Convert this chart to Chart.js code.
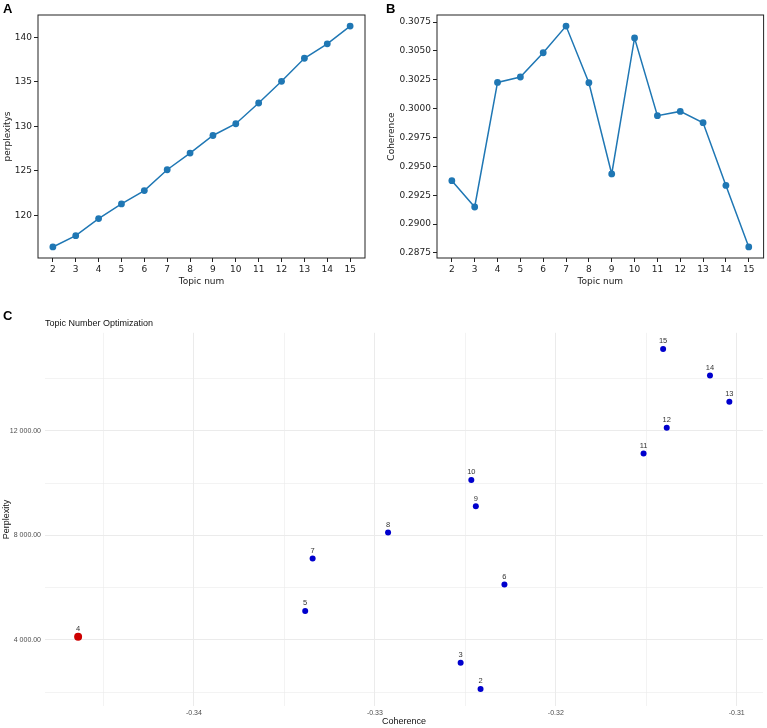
<!DOCTYPE html>
<html lang="en">
<head>
  <meta charset="UTF-8" />
  <title>Topic number selection</title>
  <script src="https://cdn.jsdelivr.net/npm/chart.js"></script>
  <style>
    body {
      margin: 0;
      background: #fff;
      font-family: "DejaVu Sans", sans-serif;
    }
    .wrap {
      position: relative;
      width: 767px;
      height: 728px;
    }
    .box {
      position: absolute;
    }
    .letter {
      position: absolute;
      font: bold 13px "Liberation Sans", Arial, sans-serif;
      color: #000;
    }
  </style>
</head>
<body>
  <div class="wrap">
    <div class="box" style="left:0;top:0;width:384px;height:300px"><canvas id="chartA"></canvas></div>
    <div class="box" style="left:384px;top:0;width:383px;height:300px"><canvas id="chartB"></canvas></div>
    <div class="box" style="left:0;top:300px;width:767px;height:428px"><canvas id="chartC"></canvas></div>
    <div class="letter" style="left:3px;top:1px">A</div>
    <div class="letter" style="left:386px;top:1px">B</div>
    <div class="letter" style="left:3px;top:308px">C</div>
  </div>

  <script>
    // số topic
    const topics = [2, 3, 4, 5, 6, 7, 8, 9, 10, 11, 12, 13, 14, 15];

    // panel A / B
    const perplexitys = [116.43, 117.70, 119.62, 121.27, 122.77, 125.11, 126.98, 128.96, 130.28, 132.61, 135.05, 137.64, 139.26, 141.26];
    const coherence = [0.29376, 0.29148, 0.30227, 0.30274, 0.30484, 0.30715, 0.30224, 0.29434, 0.30612, 0.29939, 0.29976, 0.29878, 0.29335, 0.28802];

    // panel C
    const coherenceC = [-0.32416, -0.32526, -0.34640, -0.33385, -0.32284, -0.33344, -0.32927, -0.32442, -0.32467, -0.31515, -0.31387, -0.31041, -0.31148, -0.31407];
    const perplexityC = [2123, 3131, 4126, 5111, 6118, 7114, 8115, 9111, 10118, 11131, 12115, 13111, 14118, 15129];
    const bestTopic = 4;

    // vạch lưới panel C (chỉ vạch chính có nhãn)
    const cohGrid = [-0.345, -0.34, -0.335, -0.33, -0.325, -0.32, -0.315, -0.31];
    const cohLabeled = [-0.34, -0.33, -0.32, -0.31];
    const perpGrid = [2000, 4000, 6000, 8000, 10000, 12000, 14000];
    const perpLabeled = [4000, 8000, 12000];

    const mplBlue = "#1f77b4";
    const tickFont = { family: "DejaVu Sans", size: 9 };

    // khung 4 cạnh kiểu matplotlib
    const framePlugin = {
      id: "frame",
      afterDraw(chart) {
        if (!chart.options.plugins.frame) return;
        const a = chart.chartArea;
        const ctx = chart.ctx;
        ctx.save();
        ctx.strokeStyle = "#222";
        ctx.lineWidth = 1;
        ctx.strokeRect(a.left, a.top, a.right - a.left, a.bottom - a.top);
        ctx.restore();
      }
    };

    // nhãn số topic trên mỗi điểm
    const pointLabels = {
      id: "pointLabels",
      afterDatasetsDraw(chart) {
        if (!chart.options.plugins.pointLabels) return;
        const ctx = chart.ctx;
        const meta = chart.getDatasetMeta(0);
        ctx.save();
        ctx.font = "7.5px 'Liberation Sans', Arial, sans-serif";
        ctx.fillStyle = "#333";
        ctx.textAlign = "center";
        ctx.textBaseline = "bottom";
        meta.data.forEach((pt, i) => {
          ctx.fillText(String(topics[i]), pt.x, pt.y - 4);
        });
        ctx.restore();
      }
    };

    function lineChart(id, values, yTitle, yMin, yMax, yStep, yFmt, yWidth, padRight) {
      return new Chart(document.getElementById(id), {
        type: "line",
        data: {
          labels: topics,
          datasets: [{
            data: values.map((v, i) => ({ x: topics[i], y: v })),
            borderColor: mplBlue,
            backgroundColor: mplBlue,
            borderWidth: 1.5,
            pointRadius: 3.4,
            pointHoverRadius: 3.4,
            pointBorderWidth: 0,
            tension: 0
          }]
        },
        options: {
          responsive: true,
          maintainAspectRatio: false,
          animation: false,
          layout: { padding: { top: 15, right: padRight, left: 0, bottom: 0 } },
          plugins: { legend: { display: false }, tooltip: { enabled: false }, frame: true },
          scales: {
            x: {
              type: "linear",
              min: 1.35,
              max: 15.65,
              afterFit: s => { s.height = 42; },
              afterBuildTicks: s => { s.ticks = topics.map(v => ({ value: v })); },
              grid: { drawOnChartArea: false, drawTicks: true, tickLength: 4, color: "#222" },
              border: { display: false },
              ticks: { font: tickFont, color: "#222", padding: 2, maxRotation: 0 },
              title: { display: true, text: "Topic num", font: tickFont, color: "#222", padding: { top: 0, bottom: 13 } }
            },
            y: {
              min: yMin,
              max: yMax,
              afterFit: s => { s.width = yWidth; },
              ticks: { stepSize: yStep, includeBounds: false, font: tickFont, color: "#222", padding: 2, callback: yFmt },
              grid: { drawOnChartArea: false, drawTicks: true, tickLength: 4, color: "#222" },
              border: { display: false },
              title: { display: true, text: yTitle, font: tickFont, color: "#222", padding: { top: 2, bottom: 0 } }
            }
          }
        },
        plugins: [framePlugin]
      });
    }

    // Biểu đồ A
    lineChart("chartA", perplexitys, "perplexitys", 115.19, 142.5, 5, v => String(v), 38, 19);

    // Biểu đồ B
    lineChart("chartB", coherence, "Coherence", 0.28706, 0.30811, 0.0025, v => v.toFixed(4), 53, 3);

    // Biểu đồ C
    const near = (v, list) => list.some(t => Math.abs(v - t) < 1e-9 * Math.max(1, Math.abs(t)));
    const gridColor = "#ebebeb";

    new Chart(document.getElementById("chartC"), {
      type: "scatter",
      data: {
        datasets: [{
          data: coherenceC.map((c, i) => ({ x: c, y: perplexityC[i] })),
          pointRadius: topics.map(t => t === bestTopic ? 4 : 3),
          pointHoverRadius: topics.map(t => t === bestTopic ? 4 : 3),
          pointBackgroundColor: topics.map(t => t === bestTopic ? "#cd0000" : "#0000cd"),
          pointBorderWidth: 0
        }]
      },
      options: {
        responsive: true,
        maintainAspectRatio: false,
        animation: false,
        layout: { padding: { top: 18, right: 2, left: 0, bottom: 0 } },
        plugins: {
          legend: { display: false },
          tooltip: { enabled: false },
          pointLabels: true,
          title: {
            display: true,
            text: "Topic Number Optimization",
            align: "start",
            fullSize: false,
            color: "#111",
            font: { family: "Liberation Sans", size: 9, weight: "normal" },
            padding: { top: 0, bottom: 4 }
          }
        },
        scales: {
          x: {
            type: "linear",
            min: -0.34823,
            max: -0.30855,
            afterFit: s => { s.height = 22; },
            afterBuildTicks: s => { s.ticks = cohGrid.map(v => ({ value: v })); },
            ticks: {
              font: { family: "Liberation Sans", size: 7 },
              color: "#4d4d4d",
              padding: 3,
              maxRotation: 0,
              autoSkip: false,
              callback: v => near(v, cohLabeled) ? v.toFixed(2) : ""
            },
            grid: {
              drawTicks: false,
              color: gridColor,
              lineWidth: c => near(c.tick.value, cohLabeled) ? 1 : 0.6
            },
            border: { display: false },
            title: { display: true, text: "Coherence", color: "#111", font: { family: "Liberation Sans", size: 9 }, padding: { top: 0, bottom: 1 } }
          },
          y: {
            min: 1472,
            max: 15753,
            afterFit: s => { s.width = 45; },
            afterBuildTicks: s => { s.ticks = perpGrid.map(v => ({ value: v })); },
            ticks: {
              font: { family: "Liberation Sans", size: 7 },
              color: "#4d4d4d",
              padding: 4,
              autoSkip: false,
              callback: v => near(v, perpLabeled) ? String(v).replace(/\B(?=(\d{3})+(?!\d))/g, " ") + ".00" : ""
            },
            grid: {
              drawTicks: false,
              color: gridColor,
              lineWidth: c => near(c.tick.value, perpLabeled) ? 1 : 0.6
            },
            border: { display: false },
            title: { display: true, text: "Perplexity", color: "#111", font: { family: "Liberation Sans", size: 9 }, padding: { top: 1, bottom: 0 } }
          }
        }
      },
      plugins: [pointLabels]
    });
  </script>
</body>
</html>
